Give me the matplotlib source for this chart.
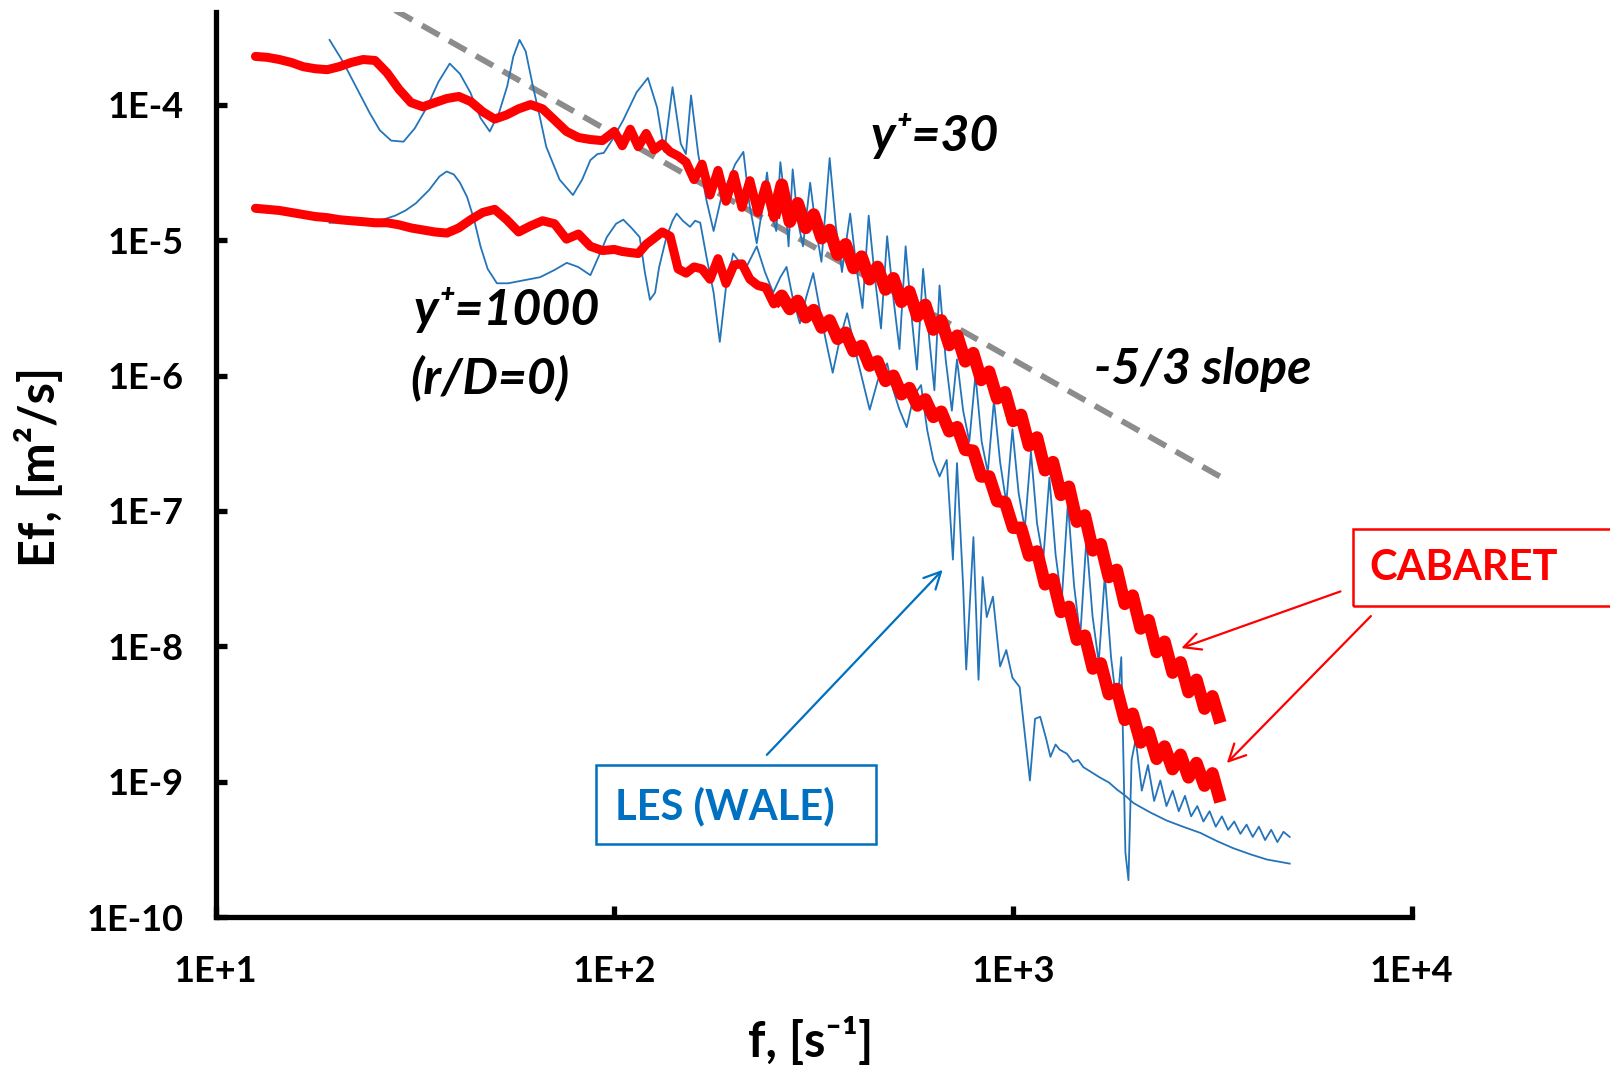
import numpy as np
import matplotlib
matplotlib.use("Agg")
import matplotlib.pyplot as plt
from matplotlib.patches import Rectangle, FancyArrowPatch
from matplotlib.ticker import NullLocator

plt.rcParams['font.family'] = ['Lato', 'DejaVu Sans']
plt.rcParams['font.weight'] = 'bold'

# ---------------- data (log10 values) ----------------
# CABARET frequency grid, log10(f [1/s])
cab_logf = [1.10, 1.13, 1.16, 1.19, 1.22, 1.25, 1.28, 1.31, 1.34, 1.37, 1.40, 1.43, 1.46, 1.49,
            1.52, 1.55, 1.58, 1.61, 1.64, 1.67, 1.70, 1.73, 1.76, 1.79, 1.82, 1.85, 1.88, 1.91,
            1.94, 1.97, 2.00,
            2.02, 2.04, 2.06, 2.08, 2.10, 2.12, 2.14, 2.16, 2.18, 2.20, 2.22, 2.24, 2.26, 2.28,
            2.30, 2.32, 2.34, 2.36, 2.38, 2.40, 2.42, 2.44, 2.46, 2.48, 2.50, 2.52, 2.54, 2.56,
            2.58, 2.60, 2.62, 2.64, 2.66, 2.68, 2.70, 2.72, 2.74, 2.76, 2.78, 2.80, 2.82, 2.84,
            2.86, 2.88, 2.90, 2.92, 2.94, 2.96, 2.98, 3.00, 3.02, 3.04, 3.06, 3.08, 3.10, 3.12,
            3.14, 3.16, 3.18, 3.20, 3.22, 3.24, 3.26, 3.28, 3.30, 3.32, 3.34, 3.36, 3.38, 3.40,
            3.42, 3.44, 3.46, 3.48, 3.50, 3.52]

# CABARET, y+=30 : log10(Ef)
cab30_logE = [-3.642, -3.649, -3.665, -3.687, -3.718, -3.733, -3.740, -3.718, -3.687, -3.665,
              -3.672, -3.763, -3.885, -3.983, -4.014, -3.983, -3.953, -3.938, -3.976, -4.051,
              -4.105, -4.074, -4.029, -3.998, -4.029, -4.112, -4.196, -4.241, -4.256, -4.264,
              -4.196,
              -4.302, -4.180, -4.309, -4.211, -4.332, -4.287, -4.347, -4.378, -4.423, -4.552,
              -4.438, -4.666, -4.484, -4.712, -4.514, -4.757, -4.560, -4.795, -4.590, -4.833,
              -4.590, -4.863, -4.727, -4.909,
              -4.810, -4.985, -4.924, -5.106, -5.030, -5.205, -5.121, -5.288, -5.197, -5.364,
              -5.281, -5.455, -5.379, -5.561, -5.478, -5.660, -5.592, -5.774, -5.705, -5.895,
              -5.834, -6.032, -5.971, -6.168, -6.123, -6.335, -6.290, -6.517, -6.457, -6.699,
              -6.639, -6.881, -6.821, -7.079, -7.033, -7.291, -7.246, -7.488, -7.435, -7.686,
              -7.625, -7.868, -7.807, -8.042, -7.966, -8.194, -8.118, -8.338, -8.247, -8.460,
              -8.369, -8.566]

# CABARET, y+=1000 : log10(Ef)
cab1000_logE = [-4.764, -4.772, -4.780, -4.795, -4.810, -4.825, -4.833, -4.848, -4.856, -4.863,
                -4.871, -4.871, -4.886, -4.909, -4.924, -4.939, -4.947, -4.909, -4.848, -4.795,
                -4.772, -4.848, -4.939, -4.894, -4.856, -4.878, -4.992, -4.954, -5.045, -5.076,
                -5.068,
                -5.083, -5.091, -5.098, -5.030, -4.985, -4.939, -4.970, -5.212, -5.243, -5.197,
                -5.212, -5.288, -5.136, -5.319, -5.182, -5.174, -5.288, -5.334, -5.349,
                -5.470, -5.410, -5.508, -5.448, -5.569, -5.516, -5.645, -5.592, -5.728, -5.683,
                -5.819, -5.781, -5.926, -5.895, -6.039, -6.001, -6.138, -6.092, -6.221, -6.176,
                -6.305, -6.267, -6.411, -6.381, -6.548, -6.555, -6.745, -6.745, -6.927, -6.935,
                -7.124, -7.124, -7.329, -7.299, -7.542, -7.504, -7.746, -7.708, -7.951, -7.921,
                -8.164, -8.126, -8.353, -8.315, -8.543, -8.498, -8.710, -8.634, -8.831, -8.740,
                -8.907, -8.801, -8.968, -8.862, -9.029, -8.938, -9.150]

# LES (WALE), y+=30
les30_logf = [1.2858, 1.3193, 1.3528, 1.3863, 1.4120, 1.4404, 1.4713, 1.4996, 1.5305, 1.5588,
              1.5872, 1.6129, 1.6387, 1.6644, 1.6876, 1.7108, 1.7314, 1.7468, 1.7623, 1.7777,
              1.7958, 1.8138, 1.8292, 1.8627, 1.8962, 1.9194, 1.9400, 1.9580, 1.9735, 1.9966,
              2.0224, 2.0559, 2.0842, 2.1074, 2.1254, 2.1460, 2.1666, 2.1795, 2.1924, 2.2104,
              2.2310, 2.2490, 2.2696, 2.2876, 2.3031, 2.3237, 2.3392, 2.3572, 2.3726, 2.3829,
              2.3958, 2.4061, 2.4164, 2.4293, 2.4370, 2.4473, 2.4602, 2.4731, 2.4911, 2.5065,
              2.5194, 2.5400, 2.5555, 2.5709, 2.5915, 2.6070, 2.6224, 2.6379, 2.6533, 2.6688,
              2.6842, 2.6997, 2.7151, 2.7306, 2.7460, 2.7589, 2.7744, 2.7898, 2.8027, 2.8156,
              2.8310, 2.8465, 2.8594, 2.8748, 2.8903, 2.9057, 2.9212, 2.9366, 2.9521, 2.9675,
              2.9830, 2.9984, 3.0139, 3.0293, 3.0448, 3.0602, 3.0757, 3.0911, 3.1066, 3.1220,
              3.1375, 3.1529, 3.1684, 3.1839, 3.1993, 3.2148, 3.2302, 3.2457, 3.2611, 3.2714,
              3.2817, 3.2894, 3.2972, 3.3075, 3.3229, 3.3384, 3.3538, 3.3693, 3.3847, 3.4002,
              3.4156, 3.4311, 3.4465, 3.4620, 3.4774, 3.4929, 3.5083, 3.5238, 3.5392, 3.5547,
              3.5701, 3.5856, 3.6010, 3.6165, 3.6320, 3.6474, 3.6629, 3.6783, 3.6938]
les30_logE = [-3.520, -3.680, -3.869, -4.059, -4.188, -4.264, -4.272, -4.173, -4.014, -3.831,
              -3.695, -3.771, -3.907, -4.097, -4.196, -4.059, -3.862, -3.642, -3.520, -3.604,
              -3.862, -4.097, -4.309, -4.552, -4.666, -4.552, -4.408, -4.363, -4.355, -4.249,
              -4.112, -3.907, -3.801, -4.021, -4.347, -3.869, -4.287, -4.363, -3.930, -4.363,
              -4.704, -4.932, -4.666, -4.552, -4.438, -4.347, -4.742, -5.023, -4.742, -4.499,
              -4.818, -4.932, -4.423, -4.742, -5.045, -4.476, -4.856, -5.045, -4.575, -4.932,
              -5.159, -4.393, -4.894, -5.235, -4.803, -5.197, -5.501, -4.818, -5.273, -5.652,
              -4.970, -5.425, -5.804, -5.045, -5.577, -5.956, -5.212, -5.728, -6.108, -5.334,
              -5.880, -6.259, -5.880, -6.259, -6.487, -5.994, -6.487, -6.715, -6.183, -6.639,
              -6.942, -6.396, -6.866, -7.132, -6.563, -7.094, -7.359, -6.752, -7.321, -7.663,
              -6.942, -7.549, -7.928, -7.208, -7.777, -8.118, -7.473, -8.080, -8.459, -8.080,
              -9.522, -9.727, -8.839, -8.687, -9.066, -8.877, -9.142, -8.991, -9.180, -9.066,
              -9.218, -9.104, -9.256, -9.180, -9.294, -9.218, -9.332, -9.256, -9.355, -9.294,
              -9.385, -9.317, -9.408, -9.332, -9.431, -9.355, -9.446, -9.370, -9.408]

# LES (WALE), y+=1000
les1000_logf = [1.2858, 1.3219, 1.3605, 1.3914, 1.4198, 1.4507, 1.4764, 1.5022, 1.5357, 1.5614,
                1.5794, 1.5975, 1.6129, 1.6309, 1.6490, 1.6644, 1.6824, 1.7056, 1.7340, 1.7726,
                1.8138, 1.8498, 1.8807, 1.9091, 1.9400, 1.9606, 1.9812, 2.0044, 2.0224, 2.0430,
                2.0636, 2.0765, 2.0893, 2.1022, 2.1125, 2.1306, 2.1460, 2.1563, 2.1718, 2.1898,
                2.2027, 2.2155, 2.2310, 2.2490, 2.2645, 2.2799, 2.2979, 2.3134, 2.3314, 2.3443,
                2.3572, 2.3778, 2.3984, 2.4164, 2.4319, 2.4473, 2.4653, 2.4808, 2.4988, 2.5194,
                2.5323, 2.5477, 2.5658, 2.5838, 2.6096, 2.6405, 2.6611, 2.6842, 2.6997, 2.7151,
                2.7332, 2.7512, 2.7692, 2.7847, 2.8001, 2.8156, 2.8336, 2.8491, 2.8594, 2.8748,
                2.8825, 2.9006, 2.9134, 2.9237, 2.9340, 2.9495, 2.9675, 2.9830, 2.9984, 3.0165,
                3.0422, 3.0551, 3.0680, 3.0834, 3.0937, 3.1066, 3.1169, 3.1349, 3.1504, 3.1632,
                3.1761, 3.1967, 3.2173, 3.2405, 3.2611, 3.2817, 3.3023, 3.3435, 3.3847, 3.4259,
                3.4697, 3.5109, 3.5521, 3.5959, 3.6371, 3.6654, 3.6938]
les1000_logE = [-4.871, -4.871, -4.863, -4.856, -4.848, -4.818, -4.780, -4.727, -4.628, -4.529,
                -4.492, -4.514, -4.575, -4.681, -4.856, -5.045, -5.212, -5.318, -5.318, -5.296,
                -5.273, -5.220, -5.167, -5.197, -5.258, -5.121, -4.977, -4.878, -4.848, -4.909,
                -4.977, -5.235, -5.440, -5.387, -5.197, -4.977, -4.856, -4.803, -4.856, -4.901,
                -4.856, -4.871, -5.121, -5.387, -5.751, -5.349, -5.098, -5.159, -5.197, -5.121,
                -5.045, -5.235, -5.387, -5.273, -5.197, -5.425, -5.614, -5.425, -5.243, -5.577,
                -5.766, -5.979, -5.728, -5.539, -5.880, -6.252, -6.032, -5.910, -6.108, -6.252,
                -6.381, -6.146, -6.070, -6.403, -6.623, -6.745, -6.623, -7.359, -6.646, -7.557,
                -8.171, -7.193, -8.247, -7.488, -7.784, -7.633, -8.148, -8.027, -8.232, -8.300,
                -8.991, -8.535, -8.520, -8.687, -8.816, -8.725, -8.763, -8.793, -8.854, -8.839,
                -8.892, -8.930, -8.968, -9.006, -9.059, -9.104, -9.158, -9.226, -9.286, -9.332,
                -9.378, -9.438, -9.491, -9.537, -9.575, -9.590, -9.605]

# -5/3 reference slope: end points
slope_f = [28.2, 3300.0]
slope_E = [5.0e-4, 1.8e-7]

x_ticks = [1e1, 1e2, 1e3, 1e4]
x_ticklabels = ['1E+1', '1E+2', '1E+3', '1E+4']
y_ticks = [1e-10, 1e-9, 1e-8, 1e-7, 1e-6, 1e-5, 1e-4]
y_ticklabels = ['1E-10', '1E-9', '1E-8', '1E-7', '1E-6', '1E-5', '1E-4']

# ---------------- figure ----------------
RED = '#FF0000'
BLUE_LINE = '#2474BA'
BLUE_TXT = '#0070C0'

fig = plt.figure(figsize=(16.1, 10.68), dpi=100)
ax = fig.add_axes([0.1339, 0.1413, 0.7430, 0.8472])
ax.set_xscale('log')
ax.set_yscale('log')

ax.plot(slope_f, slope_E, color='#8C8C8C', lw=4.2, linestyle=(0, (3.4, 1.9)), zorder=1)

ax.plot(10 ** np.array(les30_logf), 10 ** np.array(les30_logE), color=BLUE_LINE, lw=1.3, zorder=2)
ax.plot(10 ** np.array(les1000_logf), 10 ** np.array(les1000_logE), color=BLUE_LINE, lw=1.3, zorder=2)

# CABARET: the noisy high-frequency part of each spectrum renders as a thicker band
f_cab = 10 ** np.array(cab_logf)
split = cab_logf.index(2.40)
for logE in (cab30_logE, cab1000_logE):
    E = 10 ** np.array(logE)
    ax.plot(f_cab[:split + 1], E[:split + 1], color=RED, lw=6.5,
            solid_joinstyle='round', solid_capstyle='round', zorder=3)
    ax.plot(f_cab[split:], E[split:], color=RED, lw=9.0,
            solid_joinstyle='round', solid_capstyle='butt', zorder=3)

ax.set_xlim(1e1, 1e4)
ax.set_ylim(1e-10, 10 ** -3.316)

for s in ['top', 'right']:
    ax.spines[s].set_visible(False)
for s in ['left', 'bottom']:
    ax.spines[s].set_linewidth(3.8)
    ax.spines[s].set_color('black')

ax.set_xticks(x_ticks)
ax.set_xticklabels(x_ticklabels)
ax.set_yticks(y_ticks)
ax.set_yticklabels(y_ticklabels)
ax.xaxis.set_minor_locator(NullLocator())
ax.yaxis.set_minor_locator(NullLocator())
ax.tick_params(axis='both', direction='in', length=8, width=3.8, color='black',
               labelsize=26)
ax.tick_params(axis='x', pad=27)
ax.tick_params(axis='y', pad=23)
for lab in ax.get_xticklabels() + ax.get_yticklabels():
    lab.set_fontweight('bold')

# axis titles
fig.text(0.0242, 0.5625, 'Ef, [m²/s]', rotation=90, ha='center', va='center',
         fontsize=35, fontweight='bold')
fig.text(0.5038, 0.026, 'f, [s⁻¹]', ha='center', va='center', fontsize=35, fontweight='bold')

# curve labels
lab_kw = dict(ha='left', va='center', fontsize=36, fontweight='bold', fontstyle='italic')
fig.text(0.5408, 0.8731, 'y⁺=30', **lab_kw)
fig.text(0.2570, 0.7096, 'y⁺=1000', **lab_kw)
fig.text(0.2551, 0.6462, '(r/D=0)', **lab_kw)
fig.text(0.6792, 0.6538, '-5/3 slope', **lab_kw)

# CABARET box and arrows
fig.add_artist(Rectangle((0.8406, 0.4327), 0.17, 0.0721, transform=fig.transFigure,
                         fill=False, edgecolor=RED, lw=1.8))
fig.text(0.9088, 0.4683, 'CABARET', ha='center', va='center', fontsize=30,
         fontweight='bold', color=RED)
for tail, head in [((0.8342, 0.4471), (0.7321, 0.3923)), ((0.8527, 0.4250), (0.7608, 0.2837))]:
    fig.add_artist(FancyArrowPatch(tail, head, transform=fig.transFigure, arrowstyle='->',
                                   mutation_scale=30, lw=1.6, color=RED))

# LES box and arrow
fig.add_artist(Rectangle((0.3699, 0.2096), 0.1741, 0.0741, transform=fig.transFigure,
                         fill=False, edgecolor=BLUE_TXT, lw=1.8))
fig.text(0.4503, 0.2452, 'LES (WALE)', ha='center', va='center', fontsize=30,
         fontweight='bold', color=BLUE_TXT)
fig.add_artist(FancyArrowPatch((0.4751, 0.2913), (0.5867, 0.4683), transform=fig.transFigure,
                               arrowstyle='->', mutation_scale=30, lw=1.6, color=BLUE_TXT))

fig.savefig('out.png', dpi=100)
